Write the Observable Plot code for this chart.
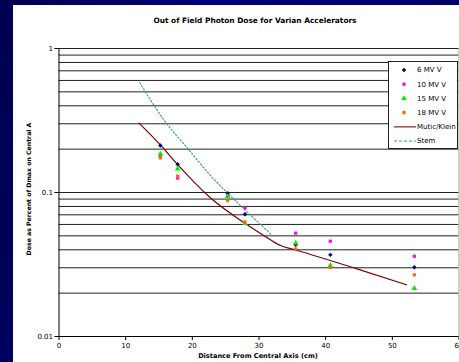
<!DOCTYPE html>
<html><head><meta charset="utf-8">
<script src="https://cdn.jsdelivr.net/npm/d3@7"></script>
<script src="https://cdn.jsdelivr.net/npm/@observablehq/plot@0.6"></script>
<style>
html,body{margin:0;padding:0;}
body{width:459px;height:362px;overflow:hidden;position:relative;
  background:linear-gradient(100deg,#000050 0%,#00007a 40%,#000066 100%);font-family:"DejaVu Sans",Verdana,sans-serif;}
#panel{position:absolute;left:13px;top:5px;width:446px;height:357px;background:#fff;}
#chart{position:absolute;left:0;top:0;}
#title{position:absolute;left:0;width:510px;top:16px;text-align:center;font-weight:bold;font-size:7.4px;color:#000;white-space:nowrap;}
#xlabel{position:absolute;left:58px;width:400px;top:352px;text-align:center;font-weight:bold;font-size:6.6px;color:#000;white-space:nowrap;}
#ylabel{position:absolute;left:28px;top:189px;transform:translate(-50%,-50%) rotate(-90deg);font-weight:bold;font-size:6.2px;color:#000;white-space:nowrap;}
#legend{position:absolute;left:388px;top:61px;width:68px;height:86px;background:#fff;border:1px solid #222;}
</style></head>
<body>
<div id="panel"></div>
<div id="chart"></div>
<div id="title"></div>
<div id="xlabel"></div>
<div id="ylabel"></div>
<div id="legend"></div>
<script>
const titleText = "Out of Field Photon Dose for Varian Accelerators";
const xLabelText = "Distance From Central Axis (cm)";
const yLabelText = "Dose as Percent of Dmax on Central A";

const seriesNames = ["6 MV V", "10 MV V", "15 MV V", "18 MV V", "Mutic/Klein", "Stem"];
const distances = [15.2, 17.8, 25.3, 27.9, 35.5, 40.7, 53.3];
const mv6  = [0.212, 0.157, 0.0989, 0.0707, 0.0433, 0.0369, 0.0303];
const mv10 = [0.179, 0.126, 0.095, 0.078, 0.0522, 0.0459, 0.0361];
const mv15 = [0.185, 0.146, 0.0938, 0.061, 0.0445, 0.0311, 0.0216];
const mv18 = [0.174, 0.130, 0.088, 0.0625, 0.0406, 0.0301, 0.0268];
const muticX = [12.0, 15.2, 17.8, 22.7, 28.0, 30.7, 33.2, 35.5, 44.7, 52.1];
const muticY = [0.303, 0.214, 0.156, 0.0919, 0.0606, 0.0503, 0.0428, 0.0399, 0.0295, 0.0229];
const stemX = [12.1, 16.1, 19.2, 23.0, 25.4, 28.0, 32.0];
const stemY = [0.578, 0.303, 0.205, 0.127, 0.098, 0.075, 0.0503];

const xTicks = [0, 10, 20, 30, 40, 50, 60];
const yTicks = [0.01, 0.1, 1];
const yTickLabels = ["0.01", "0.1", "1"];
const gridValues = [0.02,0.03,0.04,0.05,0.06,0.07,0.08,0.09,0.1,0.2,0.3,0.4,0.5,0.6,0.7,0.8,0.9,1];

const colors = ["#000080", "#ff00ff", "#00ee00", "#ff6600", "#800000", "#339999"];
const symbols = ["diamond2", "square", "triangle", "square"];
const radii = [2.0, 1.8, 2.1, 1.8];

const scatter = [mv6, mv10, mv15, mv18].map((vals, i) =>
  distances.map((d, j) => ({x: d, y: vals[j], s: seriesNames[i]})));
const mutic = muticX.map((x, i) => ({x, y: muticY[i]}));
const stem = stemX.map((x, i) => ({x, y: stemY[i]}));

const chart = Plot.plot({
  width: 459, height: 362,
  marginLeft: 58.5, marginRight: 0.5, marginTop: 48, marginBottom: 26,
  style: {background: "transparent", fontFamily: "DejaVu Sans, Verdana, sans-serif", fontSize: "7px", color: "#000", overflow: "visible"},
  x: {domain: [0, 60]},
  y: {type: "log", domain: [0.01, 1]},
  marks: [
    Plot.ruleY(gridValues, {stroke: "#222", strokeWidth: 1}),
    Plot.ruleX([60], {stroke: "#999", strokeWidth: 1}),
    Plot.axisX({ticks: xTicks, tickSize: 4, tickPadding: 3, label: null, stroke: "#000"}),
    Plot.axisY({ticks: yTicks, tickFormat: d => yTickLabels[yTicks.indexOf(d)], tickSize: 4, tickPadding: 2, label: null, stroke: "#000"}),
    Plot.ruleX([0], {stroke: "#000", strokeWidth: 1}),
    Plot.ruleY([0.01], {stroke: "#000", strokeWidth: 1}),
    Plot.line(mutic, {x: "x", y: "y", stroke: colors[4], strokeWidth: 1.2, curve: "monotone-x"}),
    Plot.line(stem, {x: "x", y: "y", stroke: colors[5], strokeWidth: 1.1, strokeDasharray: "1.5,2", curve: "monotone-x"}),
    ...scatter.map((data, i) => Plot.dot(data, {x: "x", y: "y", symbol: () => symbols[i], r: radii[i], fill: colors[i], stroke: "none"}))
  ]
});
document.getElementById("chart").appendChild(chart);
document.getElementById("title").textContent = titleText;
document.getElementById("xlabel").textContent = xLabelText;
document.getElementById("ylabel").textContent = yLabelText;

// legend
const lg = d3.select("#legend").append("svg").attr("width", 68).attr("height", 86)
  .style("font-family", "DejaVu Sans, Verdana, sans-serif").style("font-size", "7px");
const symMap = {diamond2: d3.symbolDiamond2, square: d3.symbolSquare, triangle: d3.symbolTriangle};
seriesNames.forEach((name, i) => {
  const cy = 8 + i * 14.2;
  if (i < 4) {
    const r = radii[i];
    lg.append("path").attr("transform", `translate(15,${cy})`)
      .attr("d", d3.symbol(symMap[symbols[i]], Math.PI * r * r)()).attr("fill", colors[i]);
    lg.append("text").attr("x", 28).attr("y", cy).attr("dy", "0.35em").text(name);
  } else {
    lg.append("line").attr("x1", 5).attr("x2", 27).attr("y1", cy).attr("y2", cy)
      .attr("stroke", i === 4 ? "#b05050" : colors[5]).attr("stroke-width", i === 4 ? 1.6 : 1)
      .attr("stroke-dasharray", i === 5 ? "3,2" : null);
    lg.append("text").attr("x", 28).attr("y", cy).attr("dy", "0.35em").text(name);
  }
});
</script>
</body></html>
